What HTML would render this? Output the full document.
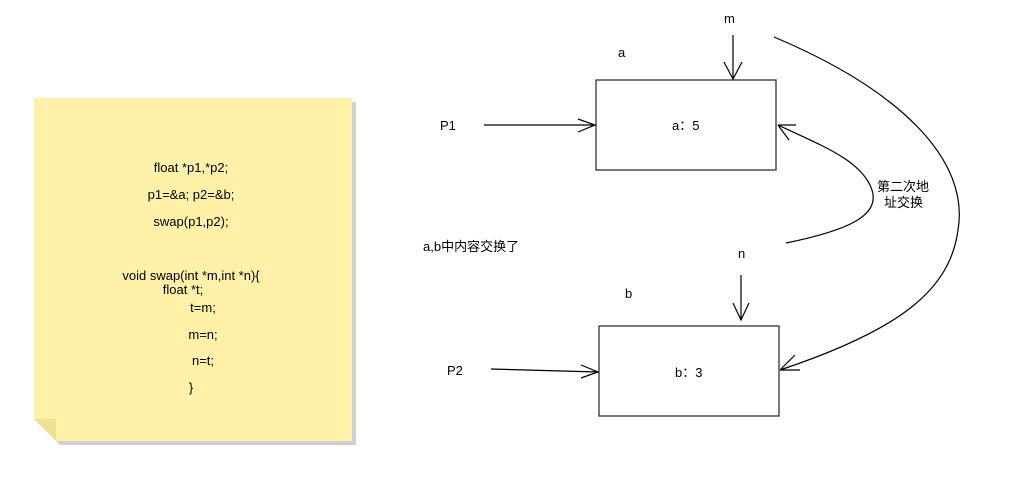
<!DOCTYPE html>
<html><head><meta charset="utf-8"><style>
body{margin:0;background:#fff;width:1024px;height:487px;overflow:hidden}
text{font-family:"Liberation Sans","Noto Sans CJK SC",sans-serif;font-size:13px;fill:#000}
</style></head><body>
<svg width="1024" height="487" viewBox="0 0 1024 487">
<path d="M38 102 H356 V445 H60 L38 423 Z" fill="#d0d0d0"/>
<path d="M34 98 H352 V441 H56 L34 419 Z" fill="#fff2a8"/>
<path d="M34 419 H56 V441 Z" fill="#efe095"/>
<g text-anchor="middle">
<text x="191" y="172">float *p1,*p2;</text>
<text x="191" y="199">p1=&amp;a; p2=&amp;b;</text>
<text x="191" y="226">swap(p1,p2);</text>
<text x="191" y="280">void swap(int *m,int *n){</text>
<text x="183" y="294">float *t;</text>
<text x="203" y="312">t=m;</text>
<text x="203" y="339">m=n;</text>
<text x="203" y="365">n=t;</text>
<text x="191" y="392">}</text>
</g>
<g fill="none" stroke="#333" stroke-width="1.3">
<rect x="596" y="80" width="180" height="90"/>
<rect x="599" y="326" width="180" height="90"/>
</g>
<g fill="none" stroke="#000" stroke-width="1.2">
<path d="M733 35 V79 M724 62 L733 79 L742 62"/>
<path d="M484 125 H595 M578 119 L595 125 L578 132"/>
<path d="M741 275 V320 M733 303 L741 320 L749 303"/>
<path d="M491 369 L598 372 M581 365 L598 372 L581 378"/>
<path d="M786 243 C850 230 880 215 872 190 C862 160 820 145 778 125 M778 125 H796 M778 125 L789 140"/>
<path d="M774 37 C900 90 970 160 958 230 C950 290 900 330 780 370 M780 370 L795 355 M780 370 H800"/>
</g>
<text x="724" y="23" fill="#600">m</text>
<text x="618" y="57">a</text>
<text x="672" y="130">a：5</text>
<text x="675" y="377">b：3</text>
<text x="738" y="258">n</text>
<text x="625" y="298">b</text>
<text x="440" y="130">P1</text>
<text x="447" y="375">P2</text>
<text x="423" y="251">a,b中内容交换了</text>
<text x="877" y="191">第二次地</text>
<text x="884" y="207">址交换</text>
</svg>
</body></html>
